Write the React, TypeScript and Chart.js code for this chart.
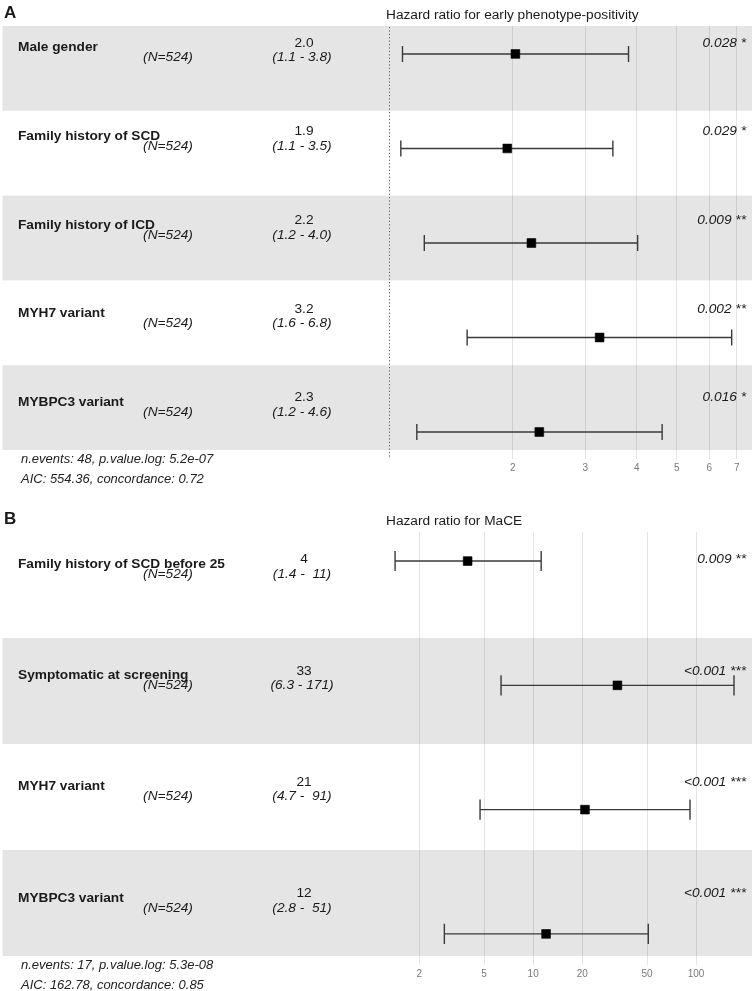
import React, { useEffect, useRef } from 'react';
import { Chart, registerables } from 'chart.js';

Chart.register(...registerables);

// ---------------- Panel A data ----------------
const A_TITLE = 'Hazard ratio for early phenotype-positivity';
const A_VARIABLES = ['Male gender', 'Family history of SCD', 'Family history of ICD', 'MYH7 variant', 'MYBPC3 variant'];
const A_N_LABELS = ['(N=524)', '(N=524)', '(N=524)', '(N=524)', '(N=524)'];
const A_HR_LABELS = ['2.0', '1.9', '2.2', '3.2', '2.3'];
const A_CI_LABELS = ['(1.1 - 3.8)', '(1.1 - 3.5)', '(1.2 - 4.0)', '(1.6 - 6.8)', '(1.2 - 4.6)'];
const A_P_LABELS = ['0.028 *', '0.029 *', '0.009 **', '0.002 **', '0.016 *'];
const A_HR = [2.03, 1.94, 2.22, 3.25, 2.32];
const A_LOW = [1.08, 1.07, 1.22, 1.55, 1.17];
const A_HIGH = [3.82, 3.5, 4.02, 6.8, 4.61];
const A_TICKS = [2, 3, 4, 5, 6, 7];
const A_FOOTER = ['n.events: 48, p.value.log: 5.2e-07', 'AIC: 554.36, concordance: 0.72'];

// ---------------- Panel B data ----------------
const B_TITLE = 'Hazard ratio for MaCE';
const B_VARIABLES = ['Family history of SCD before 25', 'Symptomatic at screening', 'MYH7 variant', 'MYBPC3 variant'];
const B_N_LABELS = ['(N=524)', '(N=524)', '(N=524)', '(N=524)'];
const B_HR_LABELS = ['4', '33', '21', '12'];
const B_CI_LABELS = ['(1.4 -  11)', '(6.3 - 171)', '(4.7 -  91)', '(2.8 -  51)'];
const B_P_LABELS = ['0.009 **', '<0.001 ***', '<0.001 ***', '<0.001 ***'];
const B_HR = [3.96, 32.9, 20.8, 12.0];
const B_LOW = [1.42, 6.35, 4.72, 2.85];
const B_HIGH = [11.2, 171, 91.8, 50.9];
const B_TICKS = [2, 5, 10, 20, 50, 100];
const B_FOOTER = ['n.events: 17, p.value.log: 5.3e-08', 'AIC: 162.78, concordance: 0.85'];

const FONT = '"Liberation Sans", Arial, Helvetica, sans-serif';
const FS = 13.7;

type Panel = {
  letter: string;
  title: string;
  variables: string[];
  nLabels: string[];
  hrLabels: string[];
  ciLabels: string[];
  pLabels: string[];
  hr: number[];
  low: number[];
  high: number[];
  ticks: number[];
  footer: string[];
  // layout
  top: number;
  height: number;
  padTop: number;
  padBottom: number;
  xMin: number;
  xMax: number;
  yExtra: number;
  barStart: number;
  barStep: number;
  textStart: number;
  textStep: number;
  refLine: boolean;
};

const PANELS: Panel[] = [
  {
    letter: 'A', title: A_TITLE, variables: A_VARIABLES, nLabels: A_N_LABELS, hrLabels: A_HR_LABELS,
    ciLabels: A_CI_LABELS, pLabels: A_P_LABELS, hr: A_HR, low: A_LOW, high: A_HIGH, ticks: A_TICKS, footer: A_FOOTER,
    top: 0, height: 495, padTop: 26, padBottom: 20,
    xMin: 0.1155, xMax: 7.617, yExtra: 0.106,
    barStart: 0.33, barStep: 1.1144, textStart: 0.3715, textStep: 1.0454, refLine: true,
  },
  {
    letter: 'B', title: B_TITLE, variables: B_VARIABLES, nLabels: B_N_LABELS, hrLabels: B_HR_LABELS,
    ciLabels: B_CI_LABELS, pLabels: B_P_LABELS, hr: B_HR, low: B_LOW, high: B_HIGH, ticks: B_TICKS, footer: B_FOOTER,
    top: 495, height: 496, padTop: 37, padBottom: 10,
    xMin: 0.005526, xMax: 220.5, yExtra: 0.085,
    barStart: 0.274, barStep: 1.1726, textStart: 0.396, textStep: 1.0503, refLine: false,
  },
];

function ForestPanel({ p }: { p: Panel }) {
  const ref = useRef<HTMLCanvasElement | null>(null);
  useEffect(() => {
    const canvas = ref.current;
    if (!canvas) return;
    const n = p.variables.length;
    const barY = (i: number) => p.barStart + i * p.barStep;

    const forestPlugin = {
      id: 'forest' + p.letter,
      beforeDraw(chart: any) {
        const { ctx, chartArea } = chart;
        const ys = chart.scales.y;
        ctx.save();
        ctx.fillStyle = '#ffffff';
        ctx.fillRect(0, 0, chart.width, chart.height);
        ctx.fillStyle = '#e5e5e5';
        for (let i = 0; i < n; i++) {
          if ((n - 1 - i) % 2 !== 0) continue;
          const y0 = ys.getPixelForValue(i);
          const y1 = ys.getPixelForValue(i + 1);
          ctx.fillRect(chartArea.left, y0, chartArea.right - chartArea.left, y1 - y0);
        }
        ctx.restore();
      },
      beforeDatasetsDraw(chart: any) {
        const { ctx, chartArea } = chart;
        const xs = chart.scales.x;
        const ys = chart.scales.y;
        ctx.save();
        if (p.refLine) {
          const x1 = Math.round(xs.getPixelForValue(1)) + 0.5;
          ctx.strokeStyle = '#555555';
          ctx.lineWidth = 1;
          ctx.setLineDash([1.2, 2.2]);
          ctx.beginPath();
          ctx.moveTo(x1, chartArea.top + 1);
          ctx.lineTo(x1, chartArea.bottom);
          ctx.stroke();
          ctx.setLineDash([]);
        }
        const unit = ys.getPixelForValue(1) - ys.getPixelForValue(0);
        const cap = unit * 0.095;
        ctx.strokeStyle = '#3a3a3a';
        ctx.lineWidth = 1.4;
        for (let i = 0; i < n; i++) {
          const y = ys.getPixelForValue(barY(i));
          const xl = xs.getPixelForValue(p.low[i]);
          const xh = xs.getPixelForValue(p.high[i]);
          ctx.beginPath();
          ctx.moveTo(xl, y);
          ctx.lineTo(xh, y);
          ctx.moveTo(xl, y - cap);
          ctx.lineTo(xl, y + cap);
          ctx.moveTo(xh, y - cap);
          ctx.lineTo(xh, y + cap);
          ctx.stroke();
        }
        ctx.restore();
      },
      afterDraw(chart: any) {
        const { ctx, chartArea } = chart;
        const ys = chart.scales.y;
        ctx.save();
        ctx.textBaseline = 'middle';
        ctx.fillStyle = '#1a1a1a';
        // panel letter
        ctx.font = `bold 17px ${FONT}`;
        ctx.textAlign = 'left';
        ctx.fillText(p.letter, 4, chartArea.top - 12.5);
        // title
        ctx.font = `${FS}px ${FONT}`;
        ctx.fillText(p.title, 386, chartArea.top - 11);
        for (let i = 0; i < n; i++) {
          const yN = ys.getPixelForValue(p.textStart + i * p.textStep);
          ctx.textAlign = 'left';
          ctx.font = `bold ${FS}px ${FONT}`;
          ctx.fillText(p.variables[i], 18, yN - 10);
          ctx.textAlign = 'center';
          ctx.font = `italic ${FS}px ${FONT}`;
          ctx.fillText(p.nLabels[i], 168, yN);
          ctx.fillText(p.ciLabels[i], 302, yN);
          ctx.font = `${FS}px ${FONT}`;
          ctx.fillText(p.hrLabels[i], 304, yN - 14.5);
          ctx.textAlign = 'right';
          ctx.font = `italic ${FS}px ${FONT}`;
          ctx.fillText(p.pLabels[i], 746, yN - 14.5);
        }
        // footer
        const bandBottom = ys.getPixelForValue(n);
        ctx.textAlign = 'left';
        ctx.font = `italic 13px ${FONT}`;
        ctx.fillStyle = '#222222';
        ctx.fillText(p.footer[0], 21, bandBottom + 9.5);
        ctx.fillText(p.footer[1], 21, bandBottom + 29.5);
        ctx.restore();
      },
    };

    const chart = new Chart(canvas, {
      type: 'scatter',
      data: {
        datasets: [
          {
            data: p.hr.map((v, i) => ({ x: v, y: barY(i) })),
            pointStyle: 'rect',
            pointRadius: 6.2,
            backgroundColor: '#000000',
            borderColor: '#000000',
            borderWidth: 0.6,
            showLine: false,
          } as any,
        ],
      },
      options: {
        responsive: false,
        animation: false,
        devicePixelRatio: 1,
        events: [],
        layout: { autoPadding: false, padding: { left: 2.5, right: 3, top: p.padTop, bottom: p.padBottom } },
        plugins: { legend: { display: false }, tooltip: { enabled: false } },
        scales: {
          x: {
            type: 'logarithmic',
            min: p.xMin,
            max: p.xMax,
            afterBuildTicks: (axis: any) => {
              axis.ticks = p.ticks.map((v) => ({ value: v }));
            },
            afterFit: (axis: any) => {
              axis.height = 16;
            },
            ticks: {
              autoSkip: false,
              maxRotation: 0,
              padding: 3,
              color: '#7a7a7a',
              font: { family: FONT, size: 10 },
              callback: (v: any) => String(v),
            },
            grid: { color: 'rgba(0,0,0,0.1)', lineWidth: 1, drawTicks: false },
            border: { display: false },
          },
          y: {
            type: 'linear',
            reverse: true,
            min: 0,
            max: p.variables.length + p.yExtra,
            display: false,
          },
        },
      } as any,
      plugins: [forestPlugin],
    });
    return () => chart.destroy();
  }, [p]);

  return (
    <canvas
      ref={ref}
      width={755}
      height={p.height}
      style={{ position: 'absolute', left: 0, top: p.top, width: 755, height: p.height, display: 'block' }}
    />
  );
}

export default function App() {
  return (
    <div style={{ position: 'absolute', left: 0, top: 0, width: 755, height: 991, background: '#ffffff', overflow: 'hidden' }}>
      {PANELS.map((p) => (
        <ForestPanel key={p.letter} p={p} />
      ))}
    </div>
  );
}
